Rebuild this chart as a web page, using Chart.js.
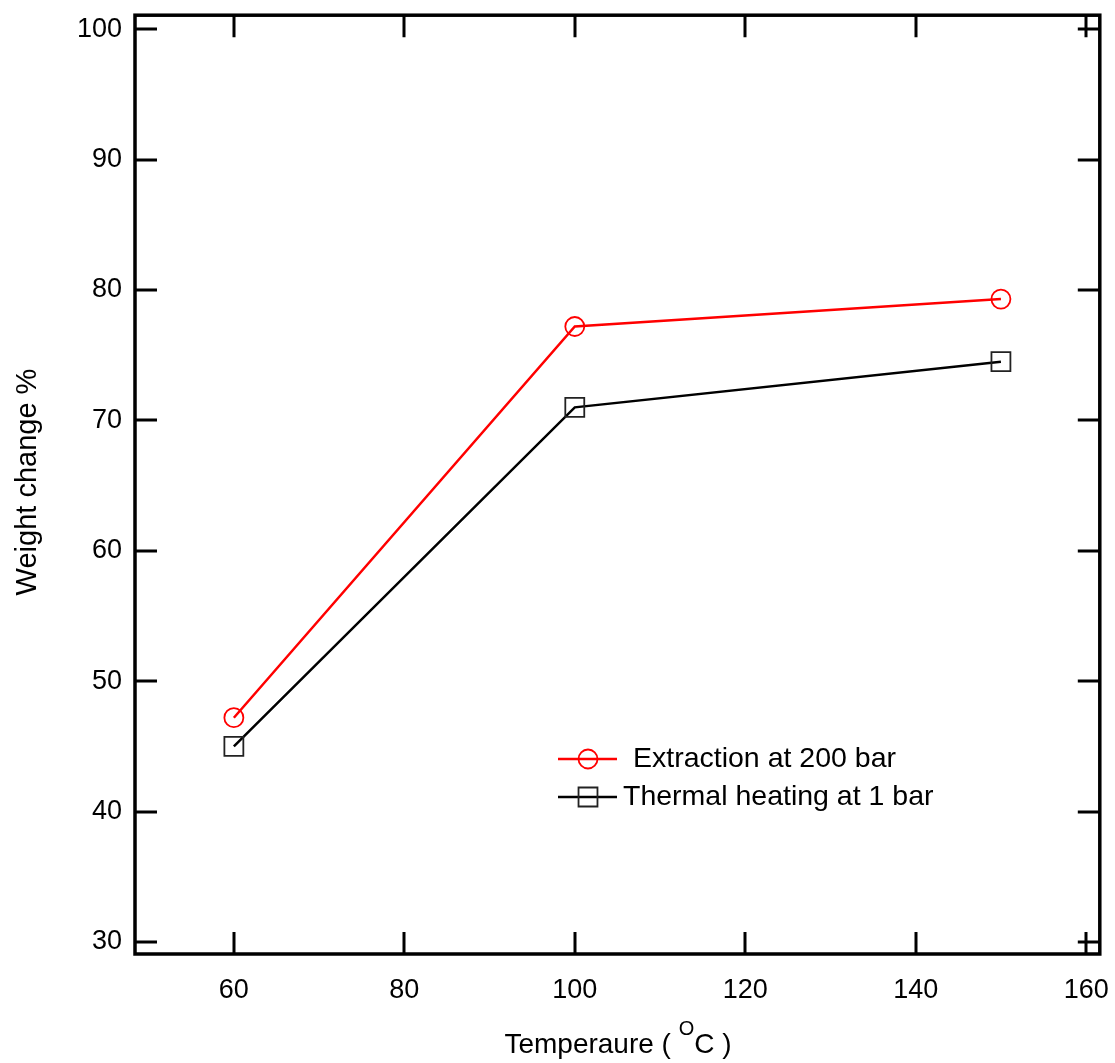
<!DOCTYPE html>
<html>
<head>
<meta charset="utf-8">
<script src="https://cdn.jsdelivr.net/npm/chart.js@4.4.1/dist/chart.umd.min.js"></script>
<style>
    html, body { margin: 0; padding: 0; background: #fff; }
    #wrap { width: 1115px; height: 1063px; }
</style>
</head>
<body>
<div id="wrap"><canvas id="weightChart" width="1115" height="1063"></canvas></div>
<script>
    // Temperature (°C) against weight change (%)
    const TEMPERATURES = [60, 100, 150];
    const EXTRACTION_200BAR = [47.2, 77.2, 79.3];
    const THERMAL_1BAR = [45.0, 71.0, 74.5];

    const X_TICKS = [60, 80, 100, 120, 140, 160];
    const Y_TICKS = [30, 40, 50, 60, 70, 80, 90, 100];

    const SERIES_LABELS = ['Extraction at 200 bar', 'Thermal heating at 1 bar'];

    const FONT = 'Liberation Sans, Arial, sans-serif';

    function toPoints(xs, ys) {
        return xs.map((x, i) => ({ x: x, y: ys[i] }));
    }

    // frame, inward ticks on all four sides, axis titles, legend
    const framePlugin = {
        id: 'frame',
        afterDraw(chart) {
            const ctx = chart.ctx;
            const a = chart.chartArea;
            const xs = chart.scales.x;
            const ys = chart.scales.y;
            const tick = 22;

            ctx.save();
            ctx.strokeStyle = '#000';
            ctx.lineWidth = 3;
            ctx.beginPath();
            X_TICKS.forEach(v => {
                const px = Math.round(xs.getPixelForValue(v));
                ctx.moveTo(px, a.bottom); ctx.lineTo(px, a.bottom - tick);
                ctx.moveTo(px, a.top); ctx.lineTo(px, a.top + tick);
            });
            Y_TICKS.forEach(v => {
                const py = Math.round(ys.getPixelForValue(v));
                ctx.moveTo(a.left, py); ctx.lineTo(a.left + tick, py);
                ctx.moveTo(a.right, py); ctx.lineTo(a.right - tick, py);
            });
            ctx.stroke();

            ctx.lineWidth = 3.5;
            ctx.strokeRect(a.left, a.top, a.right - a.left, a.bottom - a.top);

            // y title
            ctx.fillStyle = '#000';
            ctx.font = '29px ' + FONT;
            ctx.textAlign = 'center';
            ctx.textBaseline = 'middle';
            ctx.save();
            ctx.translate(28, 482);
            ctx.rotate(-Math.PI / 2);
            ctx.fillText('Weight change %', 0, 0);
            ctx.restore();

            // x title with superscript O
            const y0 = 1053;
            const part1 = 'Temperaure ( ';
            const sup = 'O';
            const part2 = 'C )';
            ctx.textBaseline = 'alphabetic';
            ctx.font = '28px ' + FONT;
            const w1 = ctx.measureText(part1).width;
            const w3 = ctx.measureText(part2).width;
            ctx.font = '20px ' + FONT;
            const w2 = ctx.measureText(sup).width;
            const total = w1 + w2 + w3;
            let x0 = 618 - total / 2;
            ctx.textAlign = 'left';
            ctx.font = '28px ' + FONT;
            ctx.fillText(part1, x0, y0);
            ctx.font = '20px ' + FONT;
            ctx.fillText(sup, x0 + w1, y0 - 18);
            ctx.font = '28px ' + FONT;
            ctx.fillText(part2, x0 + w1 + w2, y0);

            // legend
            const items = [
                { ds: chart.data.datasets[0], y: 759, textX: 633 },
                { ds: chart.data.datasets[1], y: 797, textX: 623 }
            ];
            items.forEach(it => {
                ctx.strokeStyle = it.ds.borderColor;
                ctx.lineWidth = it.ds.borderWidth;
                ctx.beginPath();
                ctx.moveTo(558, it.y); ctx.lineTo(617, it.y);
                ctx.stroke();
                ctx.strokeStyle = it.ds.pointBorderColor;
                ctx.fillStyle = 'rgba(0,0,0,0)';
                ctx.lineWidth = it.ds.pointBorderWidth;
                Chart.helpers.drawPoint(ctx, {
                    pointStyle: it.ds.pointStyle,
                    radius: it.ds.pointRadius,
                    borderWidth: it.ds.pointBorderWidth,
                    rotation: 0
                }, 588, it.y);
                ctx.fillStyle = '#000';
                ctx.font = '28.5px ' + FONT;
                ctx.textBaseline = 'middle';
                ctx.textAlign = 'left';
                ctx.fillText(it.ds.label, it.textX, it.y);
            });
            ctx.restore();
        }
    };

    const canvas = document.getElementById('weightChart');
    const chart = new Chart(canvas.getContext('2d'), {
        type: 'scatter',
        data: {
            datasets: [
                {
                    label: SERIES_LABELS[0],
                    data: toPoints(TEMPERATURES, EXTRACTION_200BAR),
                    showLine: true,
                    borderColor: '#ff0000',
                    borderWidth: 2.5,
                    pointStyle: 'circle',
                    pointRadius: 9.5,
                    pointBorderWidth: 1.8,
                    pointBorderColor: '#ff0000',
                    pointBackgroundColor: 'rgba(0,0,0,0)',
                    tension: 0
                },
                {
                    label: SERIES_LABELS[1],
                    data: toPoints(TEMPERATURES, THERMAL_1BAR),
                    showLine: true,
                    borderColor: '#000000',
                    borderWidth: 2.5,
                    pointStyle: 'rect',
                    pointRadius: 13.4,
                    pointBorderWidth: 1.8,
                    pointBorderColor: '#222',
                    pointBackgroundColor: 'rgba(0,0,0,0)',
                    tension: 0
                }
            ]
        },
        options: {
            responsive: false,
            animation: false,
            layout: { padding: { left: 0, right: 15, top: 14, bottom: 0 } },
            plugins: {
                legend: { display: false },
                tooltip: { enabled: false }
            },
            scales: {
                x: {
                    type: 'linear',
                    min: 48.4,
                    max: 161.6,
                    afterBuildTicks: axis => { axis.ticks = X_TICKS.map(v => ({ value: v })); },
                    afterFit: axis => {
                        axis.height = 109;
                        axis.paddingLeft = 0;
                        axis.paddingRight = 0;
                    },
                    grid: { display: false, drawTicks: false },
                    border: { display: false },
                    ticks: {
                        color: '#000',
                        padding: 20,
                        maxRotation: 0,
                        autoSkip: false,
                        font: { family: FONT, size: 27 }
                    }
                },
                y: {
                    type: 'linear',
                    min: 29.08,
                    max: 101.07,
                    afterBuildTicks: axis => { axis.ticks = Y_TICKS.map(v => ({ value: v })); },
                    afterFit: axis => {
                        axis.width = 135;
                        axis.paddingTop = 0;
                        axis.paddingBottom = 0;
                    },
                    grid: { display: false, drawTicks: false },
                    border: { display: false },
                    ticks: {
                        color: '#000',
                        padding: 13,
                        autoSkip: false,
                        font: { family: FONT, size: 27 }
                    }
                }
            }
        },
        plugins: [framePlugin]
    });
</script>
</body>
</html>
